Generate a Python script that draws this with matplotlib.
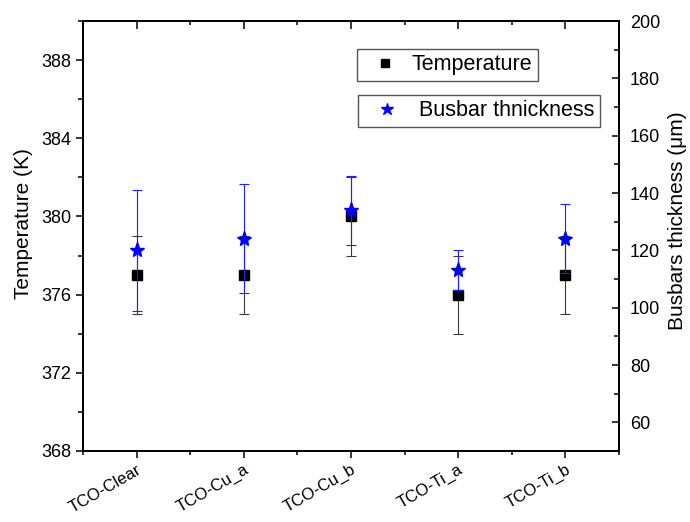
import matplotlib.pyplot as plt
from matplotlib.ticker import MultipleLocator
from matplotlib.lines import Line2D

plt.rcParams['font.family'] = ['Liberation Sans', 'DejaVu Sans']

samples = ["TCO-Clear", "TCO-Cu_a", "TCO-Cu_b", "TCO-Ti_a", "TCO-Ti_b"]
temperature = [377, 377, 380, 376, 377]
temperature_err = [2, 2, 2, 2, 2]
thickness = [120, 124, 134, 113, 124]
thickness_err = [21, 19, 12, 7, 12]

xpos = list(range(1, len(samples) + 1))

fig = plt.figure(figsize=(6.9, 5.22), dpi=100)
ax = fig.add_axes([83 / 690, 1 - 451 / 522, 536 / 690, 430 / 522])
ax2 = ax.twinx()

# temperature (left axis)
ax.errorbar(xpos, temperature, yerr=temperature_err, fmt='none',
            ecolor='#3a3a3a', elinewidth=0.8, capsize=3.3, capthick=0.8)
ax.plot(xpos, temperature, 's', color='black', markersize=7, linestyle='none')

# busbar thickness (right axis)
ax2.errorbar(xpos, thickness, yerr=thickness_err, fmt='none',
             ecolor='#2020ff', elinewidth=0.8, capsize=3.3, capthick=0.8)
ax2.plot(xpos, thickness, '*', color='#0000ff', markersize=11, linestyle='none')

ax.set_xlim(0.5, 5.5)
ax.set_ylim(368, 390)
ax2.set_ylim(50, 200)

ax.set_xticks(xpos)
ax.set_xticklabels(samples, rotation=30, ha='right', rotation_mode='anchor')
ax.xaxis.set_minor_locator(MultipleLocator(0.5))
ax.yaxis.set_major_locator(MultipleLocator(4))
ax.yaxis.set_minor_locator(MultipleLocator(2))
ax2.yaxis.set_minor_locator(MultipleLocator(10))
ax2.set_yticks([60, 80, 100, 120, 140, 160, 180, 200])

ax.tick_params(axis='x', which='major', direction='out', length=5, width=1.1,
               labelsize=12, pad=3)
ax.tick_params(axis='x', which='minor', direction='out', length=3, width=1.1)
ax.tick_params(axis='y', which='major', direction='out', length=5, width=1.1,
               labelsize=13)
ax.tick_params(axis='y', which='minor', direction='out', length=3.3, width=1.1)
ax2.tick_params(axis='y', which='major', direction='in', length=5, width=1.1,
                labelsize=13, pad=8)
ax2.tick_params(axis='y', which='minor', direction='in', length=3.3, width=1.1)

# top ticks pointing inward
top = ax.secondary_xaxis('top')
top.set_xticks(xpos)
top.set_xticklabels([])
top.xaxis.set_minor_locator(MultipleLocator(0.5))
top.tick_params(which='major', direction='in', length=5.5, width=1.1)
top.tick_params(which='minor', direction='in', length=3, width=1.1)
top.spines['top'].set_linewidth(1.3)

for a in (ax, ax2):
    for s in a.spines.values():
        s.set_linewidth(1.3)

ax.set_ylabel("Temperature (K)", fontsize=15)
ax2.set_ylabel("Busbars thickness (\u03bcm)", fontsize=15)
ax.yaxis.set_label_coords(-0.093, 0.53)
ax2.yaxis.set_label_coords(1.092, 0.535)

h1 = Line2D([], [], marker='s', color='black', linestyle='none', markersize=6)
h2 = Line2D([], [], marker='*', color='#0000ff', linestyle='none', markersize=9)
leg1 = ax.legend([h1], ["Temperature"], loc='upper left',
                 bbox_to_anchor=(0.511, 0.935), borderaxespad=0,
                 fontsize=15.5, fancybox=False, framealpha=1, edgecolor='#555555',
                 handlelength=2.1, handletextpad=0.2, borderpad=0.25)
leg1.get_frame().set_linewidth(1.0)
leg2 = ax2.legend([h2], ["Busbar thnickness"], loc='upper left',
                  bbox_to_anchor=(0.513, 0.828), borderaxespad=0,
                  fontsize=15.5, fancybox=False, framealpha=1, edgecolor='#555555',
                  handlelength=2.2, handletextpad=0.39, borderpad=0.25)
leg2.get_frame().set_linewidth(1.0)

fig.savefig("out.png", dpi=100)
